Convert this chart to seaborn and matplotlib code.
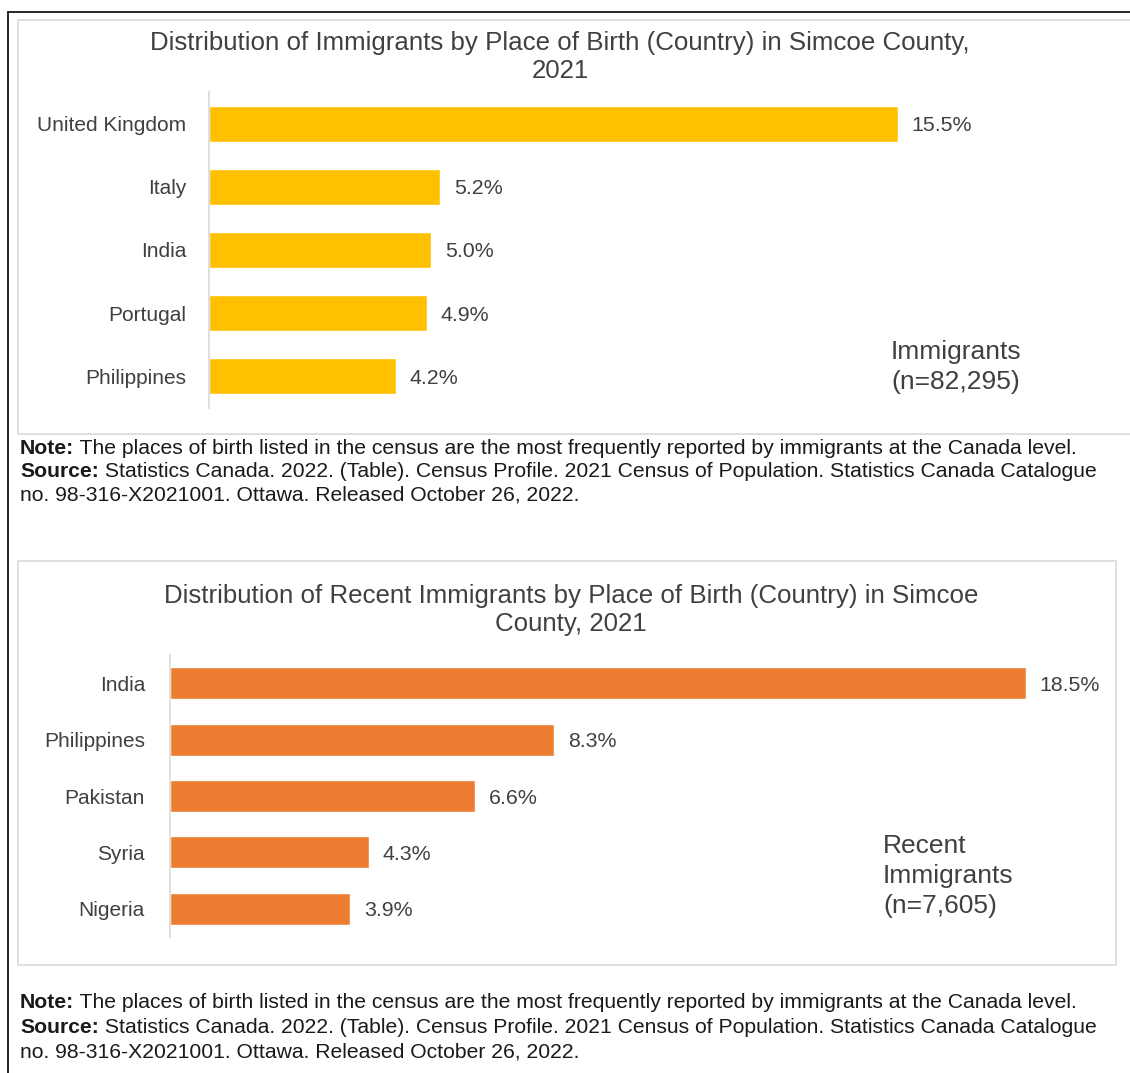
import matplotlib
matplotlib.use("Agg")
import matplotlib.pyplot as plt
import seaborn as sns
import pandas as pd
from matplotlib.patches import Rectangle
from matplotlib.lines import Line2D

# ---- data ----
countries_all = ["United Kingdom", "Italy", "India", "Portugal", "Philippines"]
share_all = [15.5, 5.2, 5.0, 4.9, 4.2]
countries_recent = ["India", "Philippines", "Pakistan", "Syria", "Nigeria"]
share_recent = [18.5, 8.3, 6.6, 4.3, 3.9]

title_all = "Distribution of Immigrants by Place of Birth (Country) in Simcoe County,\n2021"
title_recent = "Distribution of Recent Immigrants by Place of Birth (Country) in Simcoe\nCounty, 2021"
annot_all = "Immigrants\n(n=82,295)"
annot_recent = "Recent\nImmigrants\n(n=7,605)"
note_label = "Note:"
note_text = " The places of birth listed in the census are the most frequently reported by immigrants at the Canada level."
source_label = "Source:"
source_text = " Statistics Canada. 2022. (Table). Census Profile. 2021 Census of Population. Statistics Canada Catalogue"
source_line3 = "no. 98-316-X2021001. Ottawa. Released October 26, 2022."

sns.set_theme(style="white")
plt.rcParams["font.family"] = ["Liberation Sans", "DejaVu Sans"]

W, H = 1130, 1073
fig = plt.figure(figsize=(W / 100, H / 100), dpi=100)
fig.patch.set_facecolor("white")

def fx(x):
    return x / W

def fy(y):
    return 1 - y / H

def add_ax(left, top, right, bottom):
    return fig.add_axes([fx(left), fy(bottom), fx(right) - fx(left), fy(top) - fy(bottom)])

# outer black frame (left and top)
fig.add_artist(Line2D([fx(8), fx(8)], [fy(12), 0], color="black", lw=1.2, transform=fig.transFigure))
fig.add_artist(Line2D([fx(8), 1], [fy(12), fy(12)], color="black", lw=1.2, transform=fig.transFigure))

# chart boxes
fig.add_artist(Rectangle((fx(18), fy(434)), fx(1140) - fx(18), fy(20) - fy(434), fill=False,
                         edgecolor="#D9D9D9", lw=1.2, transform=fig.transFigure))
fig.add_artist(Rectangle((fx(18), fy(965)), fx(1116) - fx(18), fy(561) - fy(965), fill=False,
                         edgecolor="#D9D9D9", lw=1.2, transform=fig.transFigure))

text_color = "#404040"

def draw_chart(ax, cats, vals, color, pad_pts):
    df = pd.DataFrame({"country": cats, "share": vals})
    sns.barplot(data=df, x="share", y="country", orient="h", color=color, width=0.57,
                saturation=1, ax=ax)
    ax.set_xlim(0, 20)
    ax.set_ylim(4.5, -0.5)
    ax.set_xlabel("")
    ax.set_ylabel("")
    ax.set_xticks([])
    for s in ["top", "right", "bottom"]:
        ax.spines[s].set_visible(False)
    ax.spines["left"].set_color("#D9D9D9")
    ax.spines["left"].set_linewidth(1.2)
    ax.tick_params(axis="y", length=0, pad=pad_pts, labelsize=15, labelcolor=text_color)
    ax.set_facecolor("none")
    for c in ax.containers:
        labs = ax.bar_label(c, labels=[f"{v:.1f}%" for v in vals], padding=10, fontsize=15.4,
                            color=text_color)
        for t in labs:
            t.set_va("center_baseline")

ax1 = add_ax(209, 92, 1098, 408)
draw_chart(ax1, countries_all, share_all, "#FFC000", 16.5)
ax2 = add_ax(170, 655, 1095, 937)
draw_chart(ax2, countries_recent, share_recent, "#ED7D31", 18)

# titles
fig.text(fx(560), fy(57), title_all, ha="center", va="center", fontsize=18.6,
         color=text_color, linespacing=1.2)
fig.text(fx(571), fy(610), title_recent, ha="center", va="center", fontsize=18.6,
         color=text_color, linespacing=1.25)

# annotations
fig.text(fx(891), fy(367), annot_all, ha="left", va="center", fontsize=19,
         color=text_color, linespacing=1.32)
fig.text(fx(883), fy(876), annot_recent, ha="left", va="center", fontsize=19,
         color=text_color, linespacing=1.32)

# notes
renderer = fig.canvas.get_renderer()
NOTE_SIZE = 15.25

def mixed_line(x, y, bold, rest, size=NOTE_SIZE):
    t = fig.text(fx(x), fy(y), bold, ha="left", va="center", fontsize=size,
                 fontweight="bold", color="#1a1a1a")
    bb = t.get_window_extent(renderer=renderer)
    fig.text(bb.x1 / W, fy(y), rest, ha="left", va="center", fontsize=size, color="#1a1a1a")

def notes(y0, dy):
    mixed_line(20, y0, note_label, note_text)
    mixed_line(20, y0 + dy, source_label, source_text)
    fig.text(fx(20), fy(y0 + 2 * dy), source_line3, ha="left", va="center", fontsize=NOTE_SIZE,
             color="#1a1a1a")

notes(449, 23)
notes(1003, 24.5)

fig.savefig("out.png", dpi=100, facecolor="white")
